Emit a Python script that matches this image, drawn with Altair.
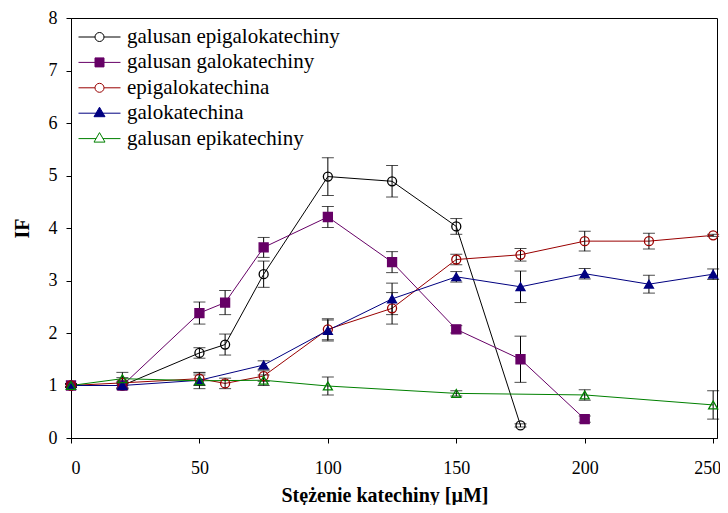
import altair as alt
import pandas as pd

series_names = ["galusan epigalokatechiny", "galusan galokatechiny",
                "epigalokatechina", "galokatechina", "galusan epikatechiny"]
colors = ["#000000", "#660066", "#990000", "#000080", "#008000"]
fills = ["transparent", "#660066", "transparent", "#000080", "transparent"]
shapes = ["circle", "square", "circle", "triangle-up", "triangle-up"]
sizes = [81, 81, 81, 121, 121]

# legend symbols: line + marker
legend_paths = [
    "M-2.1,0H-0.45M0.45,0H2.1M0.45,0A0.45,0.45,0,1,1,-0.45,0A0.45,0.45,0,1,1,0.45,0Z",
    "M-2.1,0H2.1M-0.45,-0.45H0.45V0.45H-0.45Z",
    "M-2.1,0H-0.45M0.45,0H2.1M0.45,0A0.45,0.45,0,1,1,-0.45,0A0.45,0.45,0,1,1,0.45,0Z",
    "M-2.1,0H2.1M0,-0.6L0.55,0.35L-0.55,0.35Z",
    "M-2.1,0H-0.33M0.33,0H2.1M0,-0.6L0.55,0.35L-0.55,0.35Z",
]

x_egcg = [0, 20, 50, 60, 75, 100, 125, 150, 175]
y_egcg = [1.0, 1.0, 1.62, 1.78, 3.12, 4.98, 4.89, 4.03, 0.24]
e_egcg = [0.03, 0.05, 0.1, 0.2, 0.25, 0.36, 0.3, 0.15, 0.03]

x_gcg = [0, 20, 50, 60, 75, 100, 125, 150, 175, 200]
y_gcg = [1.0, 1.0, 2.38, 2.58, 3.63, 4.21, 3.35, 2.07, 1.5, 0.36]
e_gcg = [0.03, 0.08, 0.21, 0.23, 0.19, 0.2, 0.2, 0.07, 0.44, 0.06]

x_egc = [0, 20, 50, 60, 75, 100, 125, 150, 175, 200, 225, 250]
y_egc = [1.0, 1.05, 1.13, 1.04, 1.18, 2.07, 2.47, 3.40, 3.49, 3.75, 3.75, 3.86]
e_egc = [0.03, 0.1, 0.12, 0.1, 0.1, 0.2, 0.3, 0.1, 0.12, 0.19, 0.15, 0.02]

x_gc = [0, 20, 50, 75, 100, 125, 150, 175, 200, 225, 250]
y_gc = [1.0, 1.0, 1.1, 1.39, 2.05, 2.65, 3.07, 2.88, 3.13, 2.93, 3.12]
e_gc = [0.03, 0.05, 0.1, 0.08, 0.2, 0.3, 0.1, 0.3, 0.1, 0.17, 0.1]

x_ecg = [0, 20, 50, 75, 100, 150, 200, 250]
y_ecg = [1.0, 1.13, 1.09, 1.1, 0.99, 0.85, 0.82, 0.63]
e_ecg = [0.03, 0.12, 0.15, 0.1, 0.17, 0.05, 0.1, 0.27]

x_ticks = [0, 50, 100, 150, 200, 250]
y_ticks = [0, 1, 2, 3, 4, 5, 6, 7, 8]

rows = []
for name, xs, ys, es in zip(series_names,
                            [x_egcg, x_gcg, x_egc, x_gc, x_ecg],
                            [y_egcg, y_gcg, y_egc, y_gc, y_ecg],
                            [e_egcg, e_gcg, e_egc, e_gc, e_ecg]):
    for xv, yv, ev in zip(xs, ys, es):
        rows.append({"series": name, "x": xv, "y": yv,
                     "lo": yv - ev, "hi": yv + ev})
df = pd.DataFrame(rows)

FONT = "'Liberation Serif', 'Times New Roman', Times, serif"
xscale = alt.Scale(domain=[0, 251.5], nice=False, zero=False)
yscale = alt.Scale(domain=[0, 8], nice=False)
xaxis = alt.Axis(values=x_ticks, title="Stężenie katechiny [µM]", format="d",
                 labelPadding=16, titlePadding=8, titleX=313.5,
                 labelOffset={"condition": {"test": "datum.value == 250", "value": -6}, "value": 0})
yaxis = alt.Axis(values=y_ticks, title="IF", format="d",
                 labelPadding=9, titlePadding=16)

x_enc = alt.X("x:Q", scale=xscale, axis=xaxis)
y_enc = alt.Y("y:Q", scale=yscale, axis=yaxis)

stroke_enc = alt.Stroke("series:N", scale=alt.Scale(domain=series_names, range=colors), legend=None)

base = alt.Chart(df)

lines = base.mark_line(strokeWidth=1).encode(x=x_enc, y=y_enc, stroke=stroke_enc)

errs = base.mark_errorbar(ticks=True, size=12, thickness=1, color="black").encode(
    x=x_enc,
    y=alt.Y("lo:Q", scale=yscale, axis=yaxis),
    y2="hi:Q",
)

points = base.mark_point(strokeWidth=1.3, opacity=1).encode(
    x=x_enc, y=y_enc,
    stroke=stroke_enc,
    fill=alt.Fill("series:N", scale=alt.Scale(domain=series_names, range=fills), legend=None),
    shape=alt.Shape("series:N", scale=alt.Scale(domain=series_names, range=shapes), legend=None),
    size=alt.Size("series:N", scale=alt.Scale(domain=series_names, range=sizes), legend=None),
)

leg = base.transform_filter("datum.x == 0").mark_point(opacity=0, strokeWidth=1).encode(
    x=x_enc, y=y_enc,
    shape=alt.Shape("series:N", scale=alt.Scale(domain=series_names, range=legend_paths),
                    legend=alt.Legend(title=None)),
    stroke=alt.Stroke("series:N", scale=alt.Scale(domain=series_names, range=colors),
                      legend=alt.Legend(title=None)),
    fill=alt.Fill("series:N", scale=alt.Scale(domain=series_names, range=fills),
                  legend=alt.Legend(title=None)),
)

chart = alt.layer(alt.layer(lines, errs, points), leg).resolve_scale(
    shape="independent", fill="independent", stroke="independent"
).properties(
    width=646, height=420,
    autosize=alt.AutoSizeParams(type="none"),
    padding={"left": 63, "top": 10, "right": 3, "bottom": 67},
).configure_view(
    stroke="black", strokeWidth=1
).configure_axis(
    grid=False, domainColor="black", tickColor="black", tickSize=5,
    labelFont=FONT, labelFontSize=18, labelColor="black",
    titleFont=FONT, titleFontSize=20, titleFontWeight="bold", titleColor="black",
).configure_legend(
    orient="none", legendX=18, legendY=8.5, padding=0,
    symbolSize=400, symbolOpacity=1, symbolStrokeWidth=1,
    labelFont=FONT, labelFontSize=21, labelColor="black", labelOffset=17,
    labelLimit=500, rowPadding=3.4,
)

chart.save("out.html", embed_options={"renderer": "svg", "actions": False})
